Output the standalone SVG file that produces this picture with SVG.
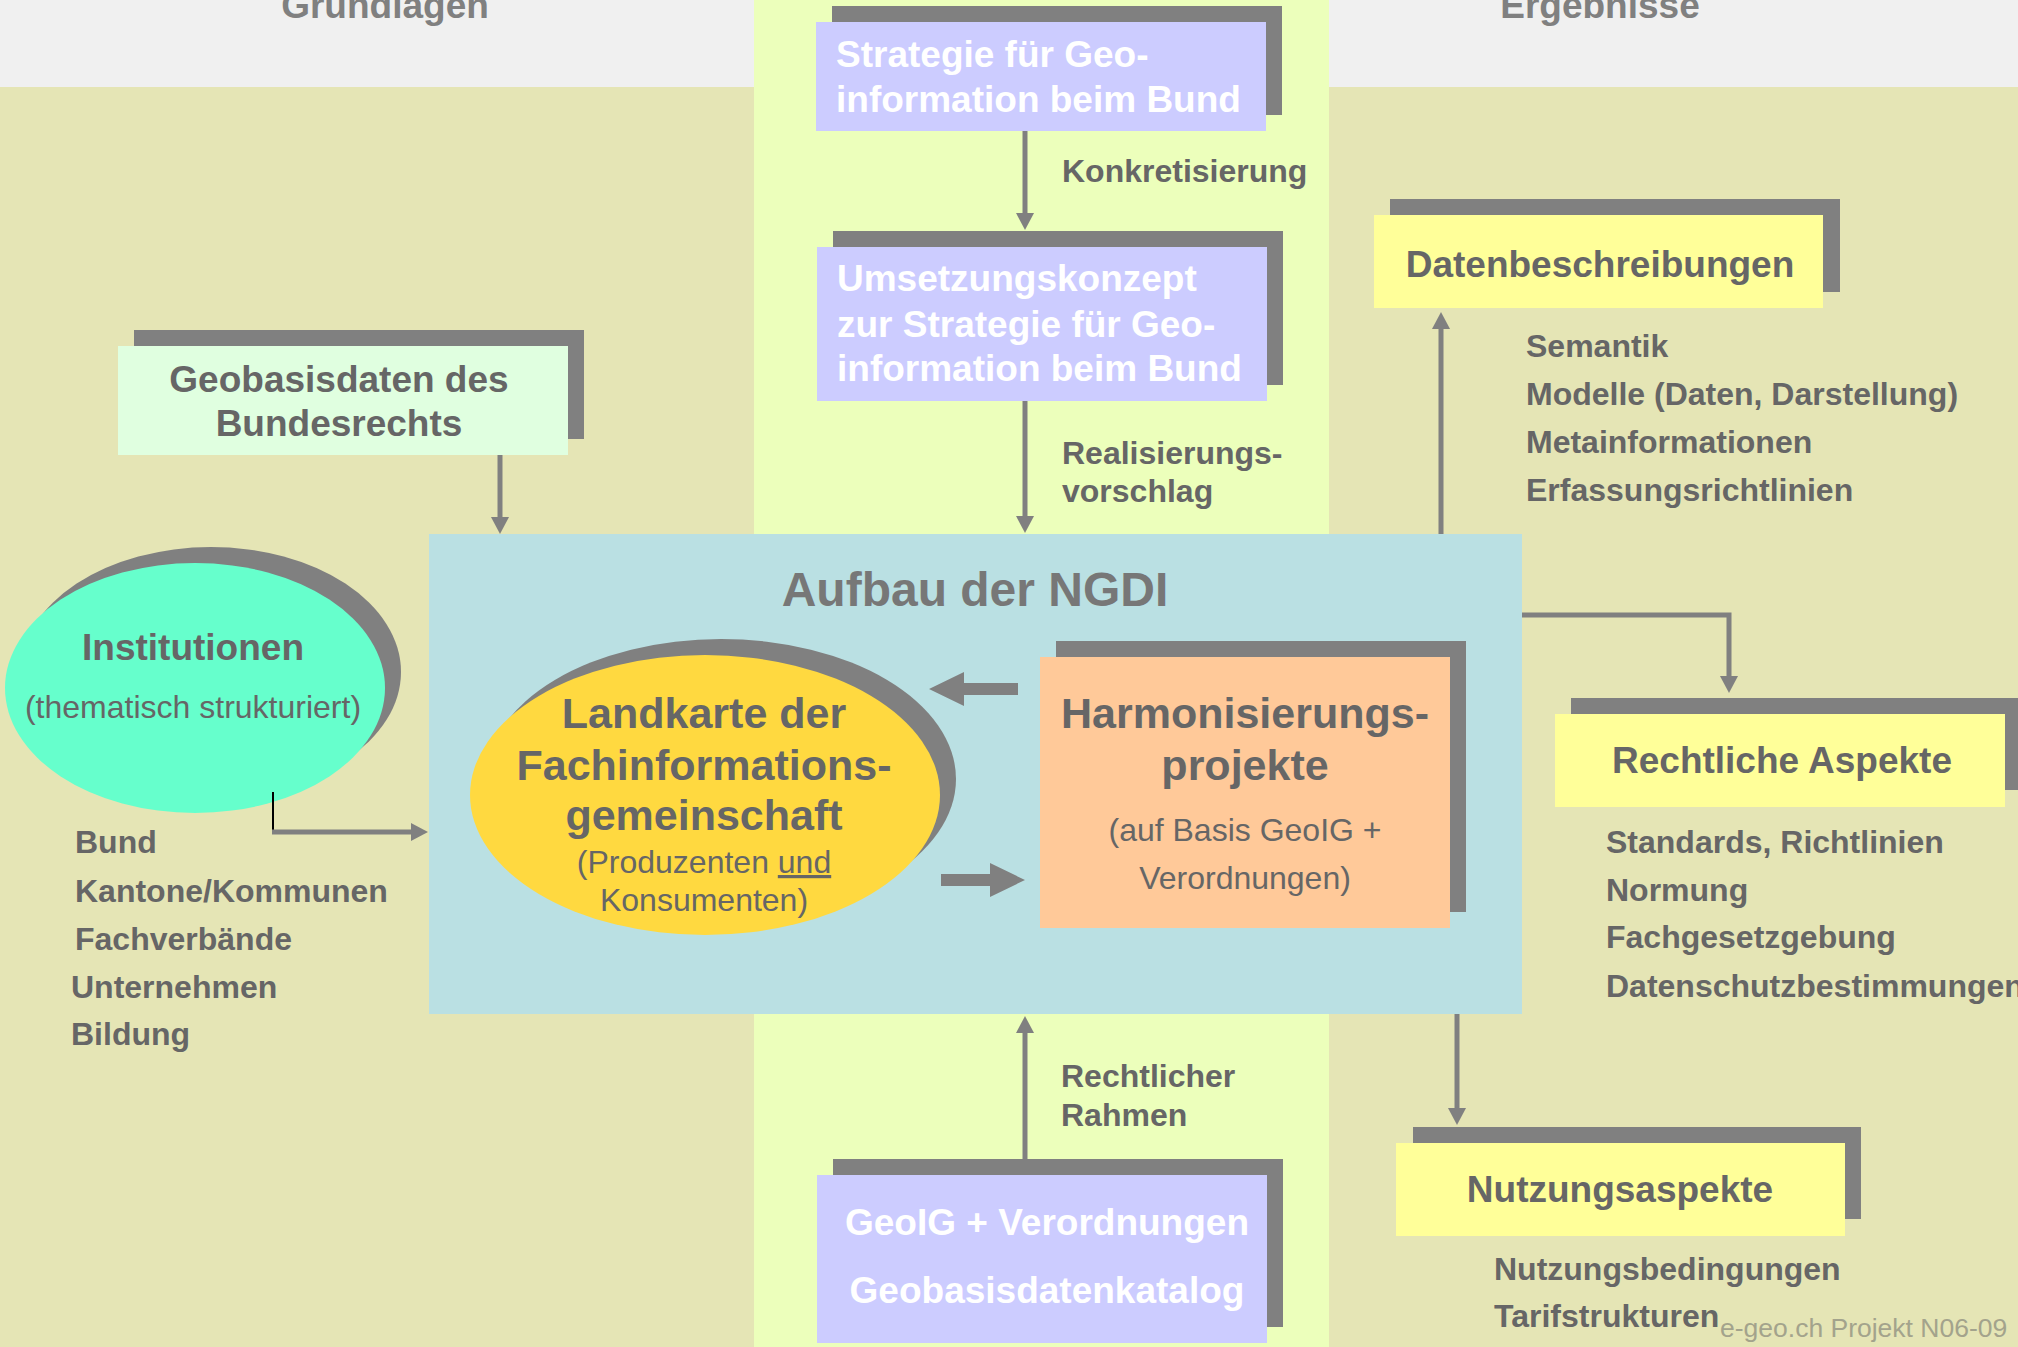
<svg xmlns="http://www.w3.org/2000/svg" width="2018" height="1347" viewBox="0 0 2018 1347">
<style>
.t{font-family:"Liberation Sans",Arial,sans-serif;font-weight:bold;fill:#666666}
.rg{font-weight:normal}
.w{fill:#ffffff}
.sh{fill:#808080}
.lav{fill:#ccccff}
.yel{fill:#ffff99}
.con{stroke:#808080;stroke-width:5;fill:none}
</style>
<defs>
<marker id="ah" viewBox="0 -9 17 18" refX="1" refY="0" markerWidth="17" markerHeight="18" markerUnits="userSpaceOnUse" orient="auto">
<path d="M0,-9 L17,0 L0,9 z" fill="#808080"/>
</marker>
</defs>
<g id="background">
<rect x="0" y="0" width="2018" height="1347" fill="#e5e5b5"/>
<rect x="0" y="0" width="754" height="87" fill="#f0f0f0"/>
<rect x="1329" y="0" width="689" height="87" fill="#f0f0f0"/>
<rect x="754" y="0" width="575" height="1347" fill="#ecffbb"/>
<text class="t" x="385" y="18" font-size="37" text-anchor="middle" style="fill:#808080">Grundlagen</text>
<text class="t" x="1600" y="18" font-size="37" text-anchor="middle" style="fill:#808080">Ergebnisse</text>
</g>
<g id="ngdi">
<rect x="429" y="534" width="1093" height="480" fill="#bae0e3"/>
<text class="t" x="975" y="606" font-size="48" text-anchor="middle" style="fill:#777777">Aufbau der NGDI</text>
</g>
<g id="strategie">
<rect class="sh" x="832" y="6" width="450" height="109"/>
<rect class="lav" x="816" y="22" width="450" height="109"/>
<text class="t" x="836" y="67" font-size="37" style="fill:#fff">Strategie für Geo-</text>
<text class="t" x="836" y="112" font-size="37" style="fill:#fff">information beim Bund</text>
</g>
<g id="umsetzungskonzept">
<rect class="sh" x="833" y="231" width="450" height="154"/>
<rect class="lav" x="817" y="247" width="450" height="154"/>
<text class="t" x="837" y="291" font-size="37" style="fill:#fff">Umsetzungskonzept</text>
<text class="t" x="837" y="337" font-size="37" style="fill:#fff">zur Strategie für Geo-</text>
<text class="t" x="837" y="381" font-size="37" style="fill:#fff">information beim Bund</text>
</g>
<g id="geoig">
<rect class="sh" x="833" y="1159" width="450" height="168"/>
<rect class="lav" x="817" y="1175" width="450" height="168"/>
<text class="t" x="1047" y="1235" font-size="37" text-anchor="middle" style="fill:#fff">GeoIG + Verordnungen</text>
<text class="t" x="1047" y="1303" font-size="37" text-anchor="middle" style="fill:#fff">Geobasisdatenkatalog</text>
</g>
<g id="geobasisdaten">
<rect class="sh" x="134" y="330" width="450" height="109"/>
<rect x="118" y="346" width="450" height="109" fill="#e0ffe0"/>
<text class="t" x="339" y="392" font-size="37" text-anchor="middle">Geobasisdaten des</text>
<text class="t" x="339" y="436" font-size="37" text-anchor="middle">Bundesrechts</text>
</g>
<g id="institutionen">
<ellipse class="sh" cx="211" cy="672" rx="190" ry="125"/>
<ellipse cx="195" cy="688" rx="190" ry="125" fill="#66ffcc"/>
<text class="t" x="193" y="660" font-size="37" text-anchor="middle">Institutionen</text>
<text class="t rg" x="193" y="718" font-size="32" text-anchor="middle">(thematisch strukturiert)</text>
</g>
<g id="institutionen-liste">
<text class="t" x="75" y="853" font-size="32">Bund</text>
<text class="t" x="75" y="902" font-size="32">Kantone/Kommunen</text>
<text class="t" x="75" y="950" font-size="32">Fachverbände</text>
<text class="t" x="71" y="998" font-size="32">Unternehmen</text>
<text class="t" x="71" y="1045" font-size="32">Bildung</text>
</g>
<g id="landkarte">
<ellipse class="sh" cx="721" cy="779" rx="235" ry="140"/>
<ellipse cx="705" cy="795" rx="235" ry="140" fill="#ffd940"/>
<text class="t" x="704" y="728" font-size="43" text-anchor="middle">Landkarte der</text>
<text class="t" x="704" y="780" font-size="43" text-anchor="middle">Fachinformations-</text>
<text class="t" x="704" y="830" font-size="43" text-anchor="middle">gemeinschaft</text>
<text class="t rg" x="704" y="873" font-size="32" text-anchor="middle">(Produzenten <tspan text-decoration="underline">und</tspan></text>
<text class="t rg" x="704" y="911" font-size="32" text-anchor="middle">Konsumenten)</text>
</g>
<g id="harmonisierung">
<rect class="sh" x="1056" y="641" width="410" height="271"/>
<rect x="1040" y="657" width="410" height="271" fill="#ffc999"/>
<text class="t" x="1245" y="728" font-size="43" text-anchor="middle">Harmonisierungs-</text>
<text class="t" x="1245" y="780" font-size="43" text-anchor="middle">projekte</text>
<text class="t rg" x="1245" y="841" font-size="32" text-anchor="middle">(auf Basis GeoIG +</text>
<text class="t rg" x="1245" y="889" font-size="32" text-anchor="middle">Verordnungen)</text>
</g>
<g id="datenbeschreibungen">
<rect class="sh" x="1390" y="199" width="450" height="93"/>
<rect class="yel" x="1374" y="215" width="449" height="93"/>
<text class="t" x="1600" y="277" font-size="37" text-anchor="middle">Datenbeschreibungen</text>
<text class="t" x="1526" y="357" font-size="32">Semantik</text>
<text class="t" x="1526" y="405" font-size="32">Modelle (Daten, Darstellung)</text>
<text class="t" x="1526" y="453" font-size="32">Metainformationen</text>
<text class="t" x="1526" y="501" font-size="32">Erfassungsrichtlinien</text>
</g>
<g id="rechtliche-aspekte">
<rect class="sh" x="1571" y="698" width="450" height="92"/>
<rect class="yel" x="1555" y="714" width="450" height="93"/>
<text class="t" x="1782" y="773" font-size="37" text-anchor="middle">Rechtliche Aspekte</text>
<text class="t" x="1606" y="853" font-size="32">Standards, Richtlinien</text>
<text class="t" x="1606" y="901" font-size="32">Normung</text>
<text class="t" x="1606" y="948" font-size="32">Fachgesetzgebung</text>
<text class="t" x="1606" y="997" font-size="32">Datenschutzbestimmungen</text>
</g>
<g id="nutzungsaspekte">
<rect class="sh" x="1413" y="1127" width="448" height="92"/>
<rect class="yel" x="1396" y="1143" width="449" height="93"/>
<text class="t" x="1620" y="1202" font-size="37" text-anchor="middle">Nutzungsaspekte</text>
<text class="t" x="1494" y="1280" font-size="32">Nutzungsbedingungen</text>
<text class="t" x="1494" y="1327" font-size="32">Tarifstrukturen</text>
</g>
<g id="footer">
<text class="t rg" x="1720" y="1337" font-size="26.5" style="fill:#a3a38c">e-geo.ch Projekt N06-09</text>
</g>
<g id="connectors">
<line class="con" x1="1025" y1="131" x2="1025" y2="214" marker-end="url(#ah)"/>
<line class="con" x1="1025" y1="401" x2="1025" y2="517" marker-end="url(#ah)"/>
<line class="con" x1="500" y1="455" x2="500" y2="518" marker-end="url(#ah)"/>
<line x1="273" y1="792" x2="273" y2="834" stroke="#000000" stroke-width="2"/>
<line class="con" x1="272" y1="832" x2="412" y2="832" marker-end="url(#ah)"/>
<line class="con" x1="1441" y1="534" x2="1441" y2="328" marker-end="url(#ah)"/>
<path class="con" d="M1522,615 H1729 V677" marker-end="url(#ah)"/>
<line class="con" x1="1457" y1="1014" x2="1457" y2="1109" marker-end="url(#ah)"/>
<line class="con" x1="1025" y1="1159" x2="1025" y2="1032" marker-end="url(#ah)"/>
<polygon points="929,689 964,672 964,683 1018,683 1018,695 964,695 964,706" fill="#808080"/>
<polygon points="941,874 990,874 990,863 1025,880 990,897 990,886 941,886" fill="#808080"/>
<text class="t" x="1062" y="182" font-size="32">Konkretisierung</text>
<text class="t" x="1062" y="464" font-size="32">Realisierungs-</text>
<text class="t" x="1062" y="502" font-size="32">vorschlag</text>
<text class="t" x="1061" y="1087" font-size="32">Rechtlicher</text>
<text class="t" x="1061" y="1126" font-size="32">Rahmen</text>
</g>
</svg>
